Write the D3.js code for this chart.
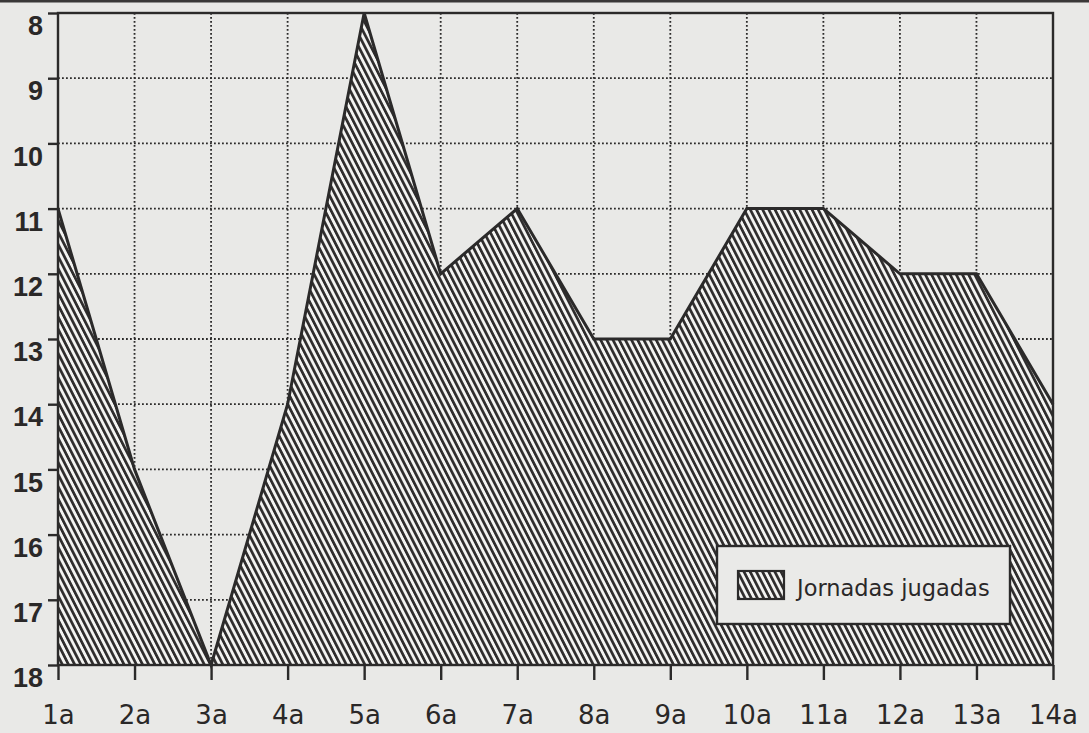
<!DOCTYPE html>
<html>
<head>
<meta charset="utf-8">
<script src="https://cdn.jsdelivr.net/npm/d3@7"></script>
<style>
  html, body { margin: 0; padding: 0; background: #e9e9e7; }
  svg { display: block; }
</style>
</head>
<body>
<svg id="chart" width="1089" height="733"></svg>
<script>
// Matchdays and the league position held after each one
const rounds = ["1a","2a","3a","4a","5a","6a","7a","8a","9a","10a","11a","12a","13a","14a"];
const positions = [11, 15, 18, 14, 8, 12, 11, 13, 13, 11, 11, 12, 12, 14];
const yTicks = [8, 9, 10, 11, 12, 13, 14, 15, 16, 17, 18];
const seriesName = "Jornadas jugadas";

const W = 1089, H = 733;
const m = { left: 58, right: 36, top: 13, bottom: 68 };
const ink = "#2b2a2a";

const svg = d3.select("#chart");

// Diagonal hatching used for the area and the legend swatch
const defs = svg.append("defs");
const pat = defs.append("pattern")
  .attr("id", "hatch")
  .attr("patternUnits", "userSpaceOnUse")
  .attr("width", 5.5).attr("height", 20)
  .attr("patternTransform", "rotate(-27)");
pat.append("rect").attr("width", 5.5).attr("height", 20).attr("fill", "#f3f3f1");
pat.append("rect").attr("x", 0).attr("width", 2.7).attr("height", 20).attr("fill", "#2e2c2c");

// scanned-paper edge at the very top
svg.append("rect").attr("x", 0).attr("y", 0).attr("width", W).attr("height", 2.5).attr("fill", "#3a3838");

const x = d3.scalePoint().domain(rounds).range([m.left, W - m.right]);
const y = d3.scaleLinear().domain([8, 18]).range([m.top, H - m.bottom]);

// dotted grid
const grid = svg.append("g")
  .attr("stroke", ink).attr("stroke-width", 1.8)
  .attr("stroke-dasharray", "1.8,2.2");
grid.selectAll("line.v").data(rounds.slice(1, -1)).join("line")
  .attr("x1", d => x(d)).attr("x2", d => x(d))
  .attr("y1", y(8)).attr("y2", y(18));
grid.selectAll("line.h").data(yTicks.slice(1, -1)).join("line")
  .attr("x1", x.range()[0]).attr("x2", x.range()[1])
  .attr("y1", d => y(d)).attr("y2", d => y(d));

// hatched area from the position line down to 18
const pts = rounds.map((r, i) => ({ r, v: positions[i] }));
const area = d3.area().x(d => x(d.r)).y0(y(18)).y1(d => y(d.v));
const line = d3.line().x(d => x(d.r)).y(d => y(d.v));
svg.append("path").datum(pts).attr("d", area).attr("fill", "url(#hatch)");
svg.append("path").datum(pts).attr("d", line)
  .attr("fill", "none").attr("stroke", ink).attr("stroke-width", 3)
  .attr("stroke-linejoin", "miter");

// frame
svg.append("rect")
  .attr("x", x.range()[0]).attr("y", y(8))
  .attr("width", x.range()[1] - x.range()[0]).attr("height", y(18) - y(8))
  .attr("fill", "none").attr("stroke", ink).attr("stroke-width", 2.4);

// left axis
const yAxis = svg.append("g")
  .attr("transform", `translate(${m.left},0)`)
  .call(d3.axisLeft(y).tickValues(yTicks).tickSize(10).tickPadding(0).tickFormat(d3.format("d")));
yAxis.select(".domain").remove();
yAxis.selectAll(".tick line").attr("stroke", ink).attr("stroke-width", 2.4);
yAxis.selectAll(".tick text")
  .attr("x", -15).attr("dy", "0.8em")
  .attr("fill", "#2a2828")
  .style("font-family", "'Liberation Sans', Arial, sans-serif")
  .style("font-weight", "bold").style("font-size", "27px");

// bottom axis
const xAxis = svg.append("g")
  .attr("transform", `translate(0,${y(18)})`)
  .call(d3.axisBottom(x).tickSize(15).tickPadding(0));
xAxis.select(".domain").remove();
xAxis.selectAll(".tick line").attr("stroke", ink).attr("stroke-width", 2.4);
xAxis.selectAll(".tick text")
  .attr("y", 41).attr("dy", "0.71em")
  .attr("fill", "#2a2828")
  .style("font-family", "'DejaVu Sans', sans-serif")
  .style("font-size", "26px");

// legend
const lg = svg.append("g").attr("transform", "translate(717,546)");
lg.append("rect").attr("width", 293).attr("height", 78)
  .attr("fill", "#eaeae8").attr("stroke", ink).attr("stroke-width", 2.4);
lg.append("rect").attr("x", 21).attr("y", 25).attr("width", 46).attr("height", 28)
  .attr("fill", "url(#hatch)").attr("stroke", ink).attr("stroke-width", 2.2);
lg.append("text").attr("x", 80).attr("y", 50)
  .attr("fill", "#2a2828")
  .style("font-family", "'DejaVu Sans', sans-serif")
  .style("font-size", "22.5px")
  .text(seriesName);
</script>
</body>
</html>
